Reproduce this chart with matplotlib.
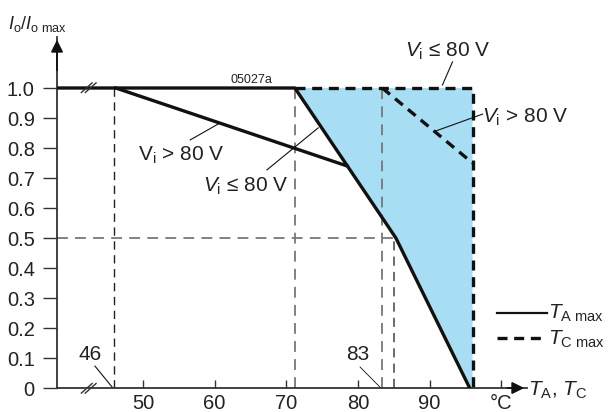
import matplotlib
matplotlib.use("Agg")
import matplotlib.pyplot as plt
import numpy as np

plt.rcParams['font.family'] = ['Liberation Sans', 'DejaVu Sans']
plt.rcParams['mathtext.fontset'] = 'custom'
plt.rcParams['mathtext.rm'] = 'Liberation Sans'
plt.rcParams['mathtext.it'] = 'Liberation Sans:italic'
plt.rcParams['mathtext.sf'] = 'Liberation Sans'

# derating curves (T in degC, Io/Io max)
ta_low_x = [38, 71.2, 85.3, 95.6]      # T_A max, Vi <= 80 V
ta_low_y = [1.0, 1.0, 0.5, 0.0]
ta_high_x = [46.2, 78.5]               # T_A max, Vi > 80 V
ta_high_y = [1.0, 0.74]
tc_low_x = [71.2, 96, 96]              # T_C max, Vi <= 80 V
tc_low_y = [1.0, 1.0, 0.0]
tc_high_x = [83.4, 96]                 # T_C max, Vi > 80 V
tc_high_y = [1.0, 0.75]

xticks = [50, 60, 70, 80, 90, 100]
xlabels = ['50', '60', '70', '80', '90', '°C']
yticks = [0, 0.1, 0.2, 0.3, 0.4, 0.5, 0.6, 0.7, 0.8, 0.9, 1.0]
ylabels = ['0', '0.1', '0.2', '0.3', '0.4', '0.5', '0.6', '0.7', '0.8', '0.9', '1.0']

W, H = 612, 412
fig = plt.figure(figsize=(W / 100, H / 100), dpi=100)
ax = fig.add_axes([57 / W, (H - 388) / H, (527 - 57) / W, (388 - 37) / H])
ax.set_xlim(38, 103.6)
ax.set_ylim(0, 1.17)
for s in ['top', 'right']:
    ax.spines[s].set_visible(False)
for s in ['left', 'bottom']:
    ax.spines[s].set_color('#333333')
    ax.spines[s].set_linewidth(1.3)

ax.set_xticks(xticks)
ax.set_xticklabels(xlabels)
ax.set_yticks(yticks)
ax.set_yticklabels(ylabels)
ax.tick_params(axis='x', direction='in', length=6, width=1, colors='#333333',
               labelsize=14.5, labelcolor='#222222', pad=4)
ax.tick_params(axis='y', direction='out', length=10, width=1, colors='#333333',
               labelsize=14.5, labelcolor='#222222', pad=6)

# arrows at axis ends
ax.annotate('', xy=(38, 1.17), xytext=(38, 1.05),
            arrowprops=dict(arrowstyle='-|>', color='#111111', lw=1.3, mutation_scale=18),
            annotation_clip=False)
ax.annotate('', xy=(103.6, 0), xytext=(100.5, 0),
            arrowprops=dict(arrowstyle='-|>', color='#111111', lw=1.3, mutation_scale=18),
            annotation_clip=False)

# shaded area between T_A and T_C curves (Vi <= 80 V)
fx = ta_low_x[1:] + [tc_low_x[2], tc_low_x[1]]
fy = ta_low_y[1:] + [tc_low_y[2], tc_low_y[1]]
ax.fill(fx, fy, color='#a8def4', lw=0, zorder=1)

# helper lines
grey = '#777777'
ax.plot([46, 46], [0, 1], color='#222222', lw=1, ls=(0, (6, 4)), zorder=2)
ax.plot([71.2, 71.2], [0, 1], color=grey, lw=1.3, ls=(0, (6, 4)), zorder=2)
ax.plot([83.4, 83.4], [0, 1], color=grey, lw=1.3, ls=(0, (6, 4)), zorder=2)
ax.plot([85.1, 85.1], [0, 0.5], color='#444444', lw=1.1, ls=(0, (6, 4)), zorder=2)
ax.plot([38, 85.3], [0.5, 0.5], color=grey, lw=1.3, ls=(0, (6, 4)), zorder=2)

# curves
ax.plot(tc_low_x, tc_low_y, color='#111111', lw=2.4, ls=(0, (3, 2)), zorder=3)
ax.plot(tc_high_x, tc_high_y, color='#111111', lw=2.4, ls=(0, (3, 2)), zorder=3)
ax.plot(ta_low_x, ta_low_y, color='#111111', lw=2.4, zorder=4)
ax.plot(ta_high_x, ta_high_y, color='#111111', lw=2.4, zorder=4)

# axis break marks
for dx in [0, 0.55]:
    ax.plot([41.4 + dx, 42.9 + dx], [0.985, 1.017], color='#333333', lw=1, clip_on=False, zorder=5)
    ax.plot([41.4 + dx, 42.9 + dx], [-0.017, 0.015], color='#333333', lw=1, clip_on=False, zorder=5)

# labels with leader lines
fs = 15
lead = dict(color='#111111', lw=0.8)
ax.text(55.3, 0.777, r'V$_\mathrm{i}$ > 80 V', fontsize=fs, ha='center', va='center', color='#222222')
ax.plot([56.6, 60.5], [0.827, 0.88], **lead)
ax.text(64.3, 0.673, r'$V_\mathrm{i}$ ≤ 80 V', fontsize=fs, ha='center', va='center', color='#222222')
ax.plot([67.3, 74.45], [0.727, 0.867], **lead)
ax.text(92.5, 1.123, r'$V_\mathrm{i}$ ≤ 80 V', fontsize=fs, ha='center', va='center', color='#222222')
ax.plot([93.2, 91.8], [1.087, 1.01], **lead)
ax.text(103.4, 0.903, r'$V_\mathrm{i}$ > 80 V', fontsize=fs, ha='center', va='center', color='#222222',
        clip_on=False)
ax.plot([97.4, 90.9], [0.913, 0.857], **lead)
ax.text(42.6, 0.11, '46', fontsize=fs, ha='center', va='center', color='#222222')
ax.plot([43.3, 45.8], [0.073, 0.0], **lead)
ax.text(80.0, 0.11, '83', fontsize=fs, ha='center', va='center', color='#222222')
ax.plot([80.3, 83.2], [0.07, 0.0], color='#111111', lw=0.6)
ax.text(65.1, 1.028, '05027a', fontsize=9, ha='center', va='center', color='#222222')

# legend
ax.plot([99.4, 106.4], [0.25, 0.25], color='#111111', lw=1.6, clip_on=False)
ax.plot([99.4, 106.4], [0.167, 0.167], color='#111111', lw=2.4, ls=(0, (3, 2)), clip_on=False)
fig.text(548 / W, 1 - 313 / H, r'$T_\mathrm{A\ max}$', fontsize=fs, ha='left', va='center', color='#222222')
fig.text(548 / W, 1 - 339 / H, r'$T_\mathrm{C\ max}$', fontsize=fs, ha='left', va='center', color='#222222')

# axis titles
fig.text(8 / W, 1 - 24 / H, r'$I_\mathrm{o}/I_\mathrm{o\ max}$', fontsize=13, ha='left', va='center',
         color='#222222')
fig.text(528 / W, 1 - 390 / H, r'$T_\mathrm{A}$, $T_\mathrm{C}$', fontsize=15, ha='left', va='center',
         color='#222222')

fig.savefig('out.png', dpi=100)
